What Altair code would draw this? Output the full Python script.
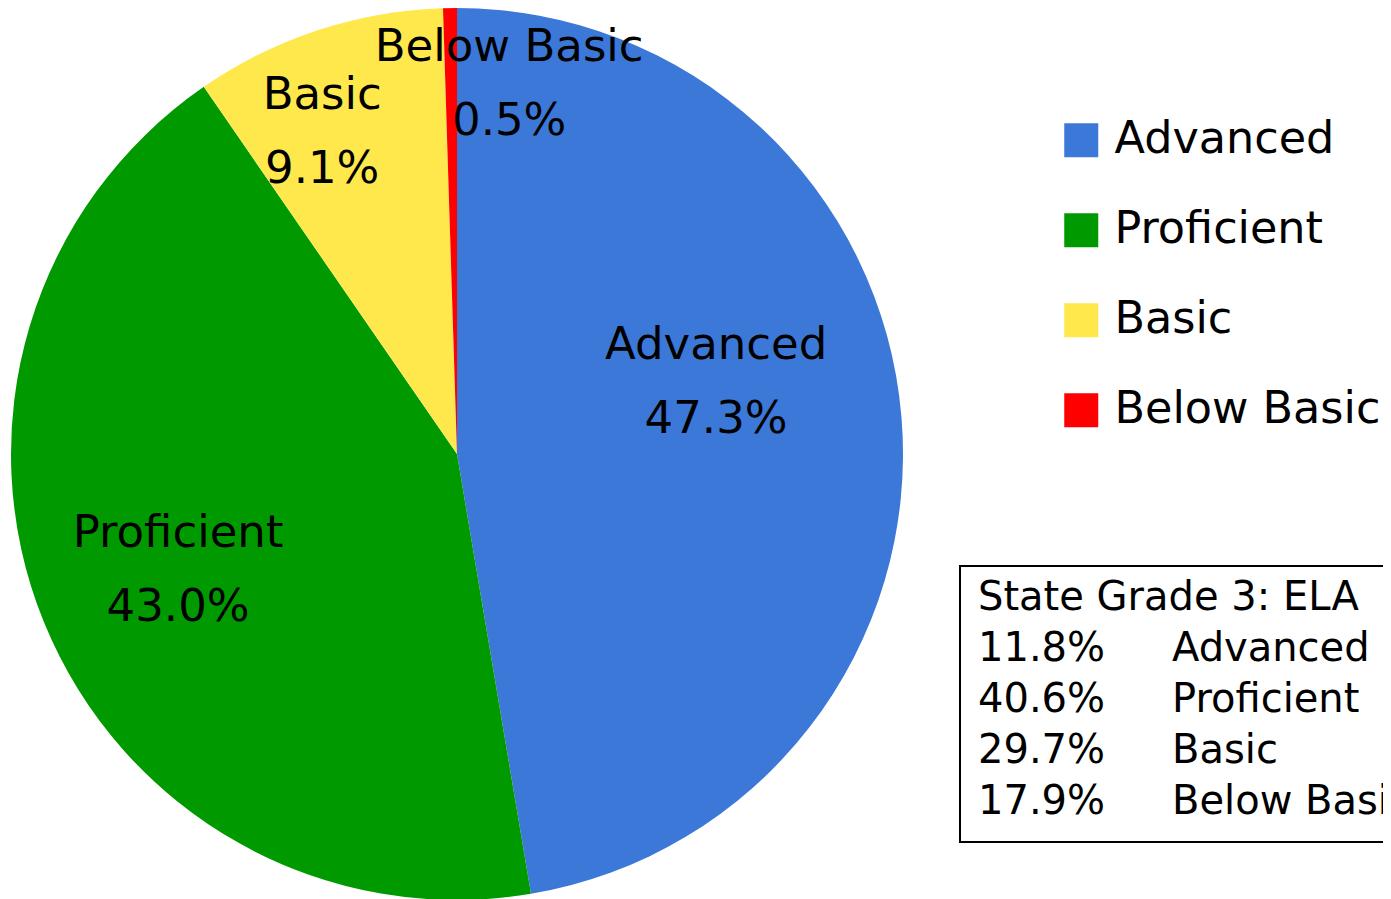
import altair as alt
import pandas as pd

# ---- data ----
categories = ["Advanced", "Proficient", "Basic", "Below Basic"]
values = [47.3, 43.0, 9.1, 0.5]
colors = ["#3C78D8", "#009900", "#FFE84C", "#FF0000"]

box_title = "State Grade 3: ELA"
state_values = [11.8, 40.6, 29.7, 17.9]

FONT = "DejaVu Sans"

df = pd.DataFrame({"cat": categories, "value": values, "idx": list(range(len(categories)))})

CX, CY, R = 449, 446, 446

base = alt.Chart(df).encode(
    theta=alt.Theta("value:Q", stack=True),
    order=alt.Order("idx:Q"),
)

pie = base.mark_arc(outerRadius=R).encode(
    x=alt.value(CX),
    y=alt.value(CY),
    color=alt.Color(
        "cat:N",
        scale=alt.Scale(domain=categories, range=colors),
        legend=alt.Legend(
            orient="none", legendX=1051, legendY=110, title=None,
            symbolType="square", symbolSize=1156, symbolStrokeWidth=0,
            labelFontSize=44.5, labelFont=FONT, labelColor="black",
            rowPadding=45, labelOffset=11, padding=0, labelLimit=500,
        ),
    ),
)

# per-slice label placement (radius, dx, dy)
label_layout = {
    "Advanced": (260, 0, -87),
    "Proficient": (301, 0, -34),
    "Basic": (342, -28, -34),
    "Below Basic": (372, 58, -35),
}

labels = []
for cat, (r, dx, dy) in label_layout.items():
    labels.append(
        base.transform_calculate(
            lab="datum.cat + '\\n' + format(datum.value, '.1f') + '%'"
        ).mark_text(
            radius=r, dx=dx, dy=dy, fontSize=45, font=FONT, lineBreak="\n",
            lineHeight=74, align="center", baseline="middle", color="black",
        ).encode(
            x=alt.value(CX),
            y=alt.value(CY),
            text=alt.condition(f"datum.cat == '{cat}'", alt.Text("lab:N"), alt.value("")),
        )
    )

# ---- state comparison box ----
box_df = pd.DataFrame({
    "row": list(range(len(state_values) + 1)),
    "left": [box_title] + [f"{v:.1f}%" for v in state_values],
    "right": [""] + categories,
})

rect = alt.Chart(pd.DataFrame({"k": [0]})).mark_rect(
    fill="white", stroke="black", strokeWidth=2
).encode(x=alt.value(952), x2=alt.value(1420), y=alt.value(558), y2=alt.value(834))

yenc = alt.Y("row:Q", axis=None, scale=alt.Scale(domain=[0, 4], range=[590, 794]))
box_left = alt.Chart(box_df).mark_text(
    align="left", baseline="middle", fontSize=40, font=FONT, color="black"
).encode(x=alt.value(970), y=yenc, text="left:N")
box_right = alt.Chart(box_df).mark_text(
    align="left", baseline="middle", fontSize=40, font=FONT, color="black"
).encode(x=alt.value(1164), y=yenc, text="right:N")

chart = alt.layer(pie, *labels, rect, box_left, box_right).properties(
    width=1375, height=891, padding=0,
    autosize=alt.AutoSizeParams(type="none"),
).configure_view(stroke=None)

chart.save("out.html", embed_options={"renderer": "svg", "actions": False})
